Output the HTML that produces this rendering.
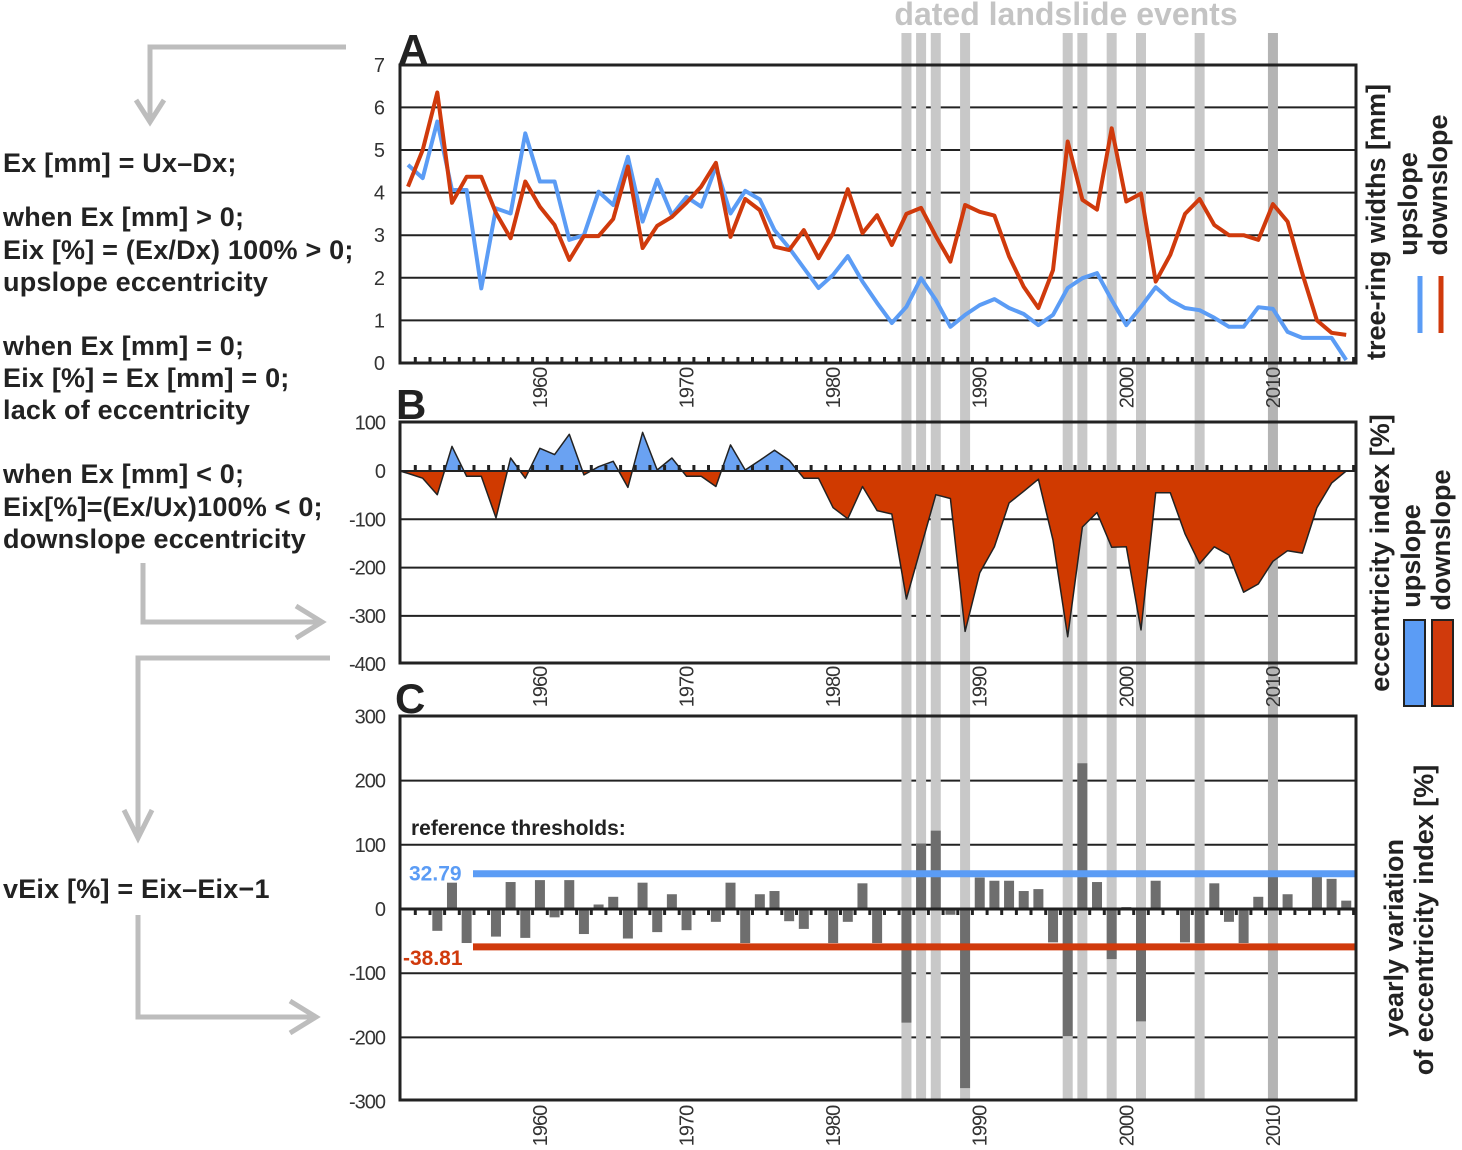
<!DOCTYPE html>
<html><head><meta charset="utf-8"><title>Eccentricity chart</title>
<style>
html,body{margin:0;padding:0;background:#fff;}
svg{display:block;font-family:"Liberation Sans",Arial,sans-serif;}
.lt{font-size:27px;font-weight:bold;fill:#222;letter-spacing:0.2px;}
.tk{font-size:20px;fill:#333;}
</style></head>
<body>
<svg id="chart" width="1462" height="1150" viewBox="0 0 1462 1150">
<defs>
<clipPath id="clipPos"><rect x="400" y="422" width="956" height="49"/></clipPath>
<clipPath id="clipNeg"><rect x="400" y="471" width="956" height="192"/></clipPath>
</defs>
<g id="arrows" fill="none" stroke="#bdbdbd" stroke-width="5">
<polyline points="346,47 150,47 150,122"/>
<polyline points="136,100 150,122 164,100"/>
<polyline points="143,563 143,622 322,622"/>
<polyline points="296,606 322,622 296,638"/>
<polyline points="330,658 138,658 138,838"/>
<polyline points="124,810 138,838 152,810"/>
<polyline points="138,915 138,1017 316,1017"/>
<polyline points="290,1001 316,1017 290,1033"/>
</g>
<g id="lefttext">
<text class="lt" x="3" y="172">Ex [mm] = Ux–Dx;</text>
<text class="lt" x="3" y="226">when Ex [mm] &gt; 0;</text>
<text class="lt" x="3" y="259">Eix [%] = (Ex/Dx) 100% &gt; 0;</text>
<text class="lt" x="3" y="291">upslope eccentricity</text>
<text class="lt" x="3" y="355">when Ex [mm] = 0;</text>
<text class="lt" x="3" y="387">Eix [%] = Ex [mm] = 0;</text>
<text class="lt" x="3" y="419">lack of eccentricity</text>
<text class="lt" x="3" y="483">when Ex [mm] &lt; 0;</text>
<text class="lt" x="3" y="516">Eix[%]=(Ex/Ux)100% &lt; 0;</text>
<text class="lt" x="3" y="548">downslope eccentricity</text>
<text class="lt" x="3" y="898">vEix [%] = Eix–Eix−1</text>
</g>
<text x="1066" y="25" text-anchor="middle" font-size="32" font-weight="bold" fill="#c4c4c4">dated landslide events</text>
<text x="398" y="64" font-size="42" font-weight="bold" fill="#222">A</text>
<text x="396" y="419" font-size="42" font-weight="bold" fill="#222">B</text>
<text x="395" y="713" font-size="42" font-weight="bold" fill="#222">C</text>
<g id="grid"></g>
<g id="events"></g>
<g id="series"></g>
<g id="frames"></g>
<g id="labels"></g>
<g id="legend">
<text transform="translate(1385,222) rotate(-90)" text-anchor="middle" font-size="27" font-weight="bold" fill="#222">tree-ring widths [mm]</text>
<text transform="translate(1417,204) rotate(-90)" text-anchor="middle" font-size="27" font-weight="bold" fill="#222">upslope</text>
<text transform="translate(1447,185) rotate(-90)" text-anchor="middle" font-size="27" font-weight="bold" fill="#222">downslope</text>
<line x1="1420" y1="276" x2="1420" y2="333" stroke="#5b9cf5" stroke-width="5"/>
<line x1="1441" y1="276" x2="1441" y2="333" stroke="#d03a0c" stroke-width="5"/>
<text transform="translate(1389,553) rotate(-90)" text-anchor="middle" font-size="27" font-weight="bold" fill="#222">eccentricity index [%]</text>
<text transform="translate(1420,556) rotate(-90)" text-anchor="middle" font-size="27" font-weight="bold" fill="#222">upslope</text>
<text transform="translate(1450,540) rotate(-90)" text-anchor="middle" font-size="27" font-weight="bold" fill="#222">downslope</text>
<rect x="1404" y="620" width="21" height="86" fill="#5b9cf5" stroke="#222" stroke-width="2"/>
<rect x="1432" y="620" width="21" height="86" fill="#d03a0c" stroke="#222" stroke-width="2"/>
<text transform="translate(1403,938) rotate(-90)" text-anchor="middle" font-size="27" font-weight="bold" fill="#222">yearly variation</text>
<text transform="translate(1433,920) rotate(-90)" text-anchor="middle" font-size="27" font-weight="bold" fill="#222">of eccentricity index [%]</text>
</g>
</svg>
<script>
const years = [];
for (let y = 1951; y <= 2015; y++) years.push(y);
const upslope = [4.65,4.34,5.67,4.06,4.06,1.75,3.63,3.51,5.39,4.26,4.26,2.89,3.0,4.02,3.71,4.84,3.32,4.3,3.47,3.9,3.67,4.61,3.51,4.04,3.84,3.12,2.7,2.23,1.76,2.07,2.51,1.91,1.41,0.94,1.32,1.99,1.48,0.85,1.13,1.36,1.5,1.29,1.15,0.89,1.13,1.76,1.99,2.11,1.48,0.89,1.32,1.78,1.48,1.29,1.24,1.06,0.85,0.85,1.31,1.27,0.73,0.59,0.59,0.59,0.07];
const downslope = [4.14,5.0,6.35,3.76,4.37,4.37,3.52,2.93,4.26,3.67,3.24,2.42,2.98,2.98,3.38,4.61,2.7,3.22,3.43,3.76,4.14,4.7,2.96,3.85,3.59,2.73,2.65,3.12,2.46,3.05,4.08,3.05,3.47,2.77,3.5,3.64,2.98,2.38,3.71,3.55,3.46,2.5,1.79,1.29,2.18,5.2,3.83,3.6,5.51,3.79,3.98,1.91,2.54,3.5,3.85,3.24,3.0,3.0,2.89,3.73,3.32,2.1,1.0,0.71,0.66];
const eix = [-5,-15,-49,51,-11,-11,-97,27,-15,47,34,76,-8,9,20,-34,80,2,27,-11,-11,-32,54,2,22,43,22,-15,-15,-76,-99,-32,-82,-89,-265,-157,-49,-57,-332,-211,-157,-66,-42,-17,-143,-343,-116,-86,-158,-157,-329,-45,-45,-130,-192,-157,-174,-251,-234,-187,-165,-170,-76,-25,0];
const veix = [0,0,-34,41,-53,0,-43,42,-45,45,-13,45,-39,7,19,-46,41,-36,23,-33,0,-20,41,-53,23,28,-19,-31,0,-53,-20,40,-53,-3,-177,102,122,-9,-279,49,44,44,28,31,-52,-198,227,42,-78,3,-175,44,0,-52,-53,40,-20,-53,19,50,23,-3,50,47,13];
const eventYears = [1985,1986,1987,1989,1996,1997,1999,2001,2005,2010];
const thresholdValues = [55,-59];
const thresholdLabels = ["32.79","-38.81"];
const aTicks = [0,1,2,3,4,5,6,7];
const bTicks = [100,0,-100,-200,-300,-400];
const cTicks = [300,200,100,0,-100,-200,-300];
const decadeLabels = [1960,1970,1980,1990,2000,2010];

const NS = "http://www.w3.org/2000/svg";
function mk(tag, attrs, parent, txt) {
  const e = document.createElementNS(NS, tag);
  for (const k in attrs) e.setAttribute(k, attrs[k]);
  if (txt !== undefined) e.textContent = txt;
  parent.appendChild(e);
  return e;
}
const L = 400, R = 1356;
const xOf = y => 408 + (y - 1951) * 14.66;
const yA = v => 363 - v * 42.6;
const yB = v => 471 - v * 0.483;
const yC = v => 909 - v * 0.642;

const grid = document.getElementById('grid');
const events = document.getElementById('events');
const series = document.getElementById('series');
const frames = document.getElementById('frames');
const labels = document.getElementById('labels');

[1,2,3,4,5,6].forEach(v => {
  const g = mk('line', {x1:L, x2:R, y1:yA(v), y2:yA(v), stroke:'#222', 'stroke-width':2}, grid);
  
  
});
[-100,-200,-300].forEach(v => {
  const g = mk('line', {x1:L, x2:R, y1:yB(v), y2:yB(v), stroke:'#222', 'stroke-width':2}, grid);
  
  
});
[200,100,-100,-200].forEach(v => {
  const g = mk('line', {x1:L, x2:R, y1:yC(v), y2:yC(v), stroke:'#222', 'stroke-width':2}, grid);
  
  
});

eventYears.forEach(y => {
  const r = mk('rect', {x:xOf(y)-5, y:33, width:10, height:1067, fill: y===2010 ? '#b4b4b4' : '#c8c8c8'}, events);
  
  
});

function linePath(arr, yf) { return arr.map((v,i) => (i?'L':'M') + xOf(years[i]).toFixed(1) + ',' + yf(v).toFixed(1)).join(''); }
const lu = mk('path', {d:linePath(upslope, yA), fill:'none', stroke:'#5b9cf5', 'stroke-width':4, 'stroke-linejoin':'round'}, series);


const ld = mk('path', {d:linePath(downslope, yA), fill:'none', stroke:'#d03a0c', 'stroke-width':4, 'stroke-linejoin':'round'}, series);



let areaD = 'M' + L + ',' + yB(0) + ' ' + eix.map((v,i) => 'L' + xOf(years[i]).toFixed(1) + ',' + yB(v).toFixed(1)).join(' ') + ' L' + R + ',' + yB(0) + ' Z';
const ap = mk('path', {d:areaD, fill:'#6aa2f2', 'clip-path':'url(#clipPos)'}, series);


const an = mk('path', {d:areaD, fill:'#d03a00', 'clip-path':'url(#clipNeg)'}, series);


const ao = mk('path', {d:areaD, fill:'none', stroke:'#222', 'stroke-width':1.5, 'stroke-linejoin':'round'}, series);



veix.forEach((v,i) => {
  if (v === 0) return;
  const y0 = yC(0), y1 = yC(v);
  const b = mk('rect', {x:xOf(years[i])-5, y:Math.min(y0,y1), width:10, height:Math.abs(y1-y0), fill:'#6e6e6e'}, series);
  
  
});
const tcol = ['#5b9cf5', '#d03a0c'];
thresholdValues.forEach((v,i) => {
  const l = mk('line', {x1:473, x2:R, y1:yC(v), y2:yC(v), stroke:tcol[i], 'stroke-width':7}, series);
  
  
  const t = mk('text', {x: i===0 ? 409 : 403, y: yC(v) + (i===0 ? 7 : 18), 'font-size':21, 'font-weight':'bold', fill:tcol[i]}, labels, thresholdLabels[i]);
  
  
});
const rt = mk('text', {x:411, y:835, 'font-size':21, 'font-weight':'bold', fill:'#222'}, labels, 'reference thresholds:');



const zb = mk('line', {x1:L, x2:R, y1:yB(0), y2:yB(0), stroke:'#222', 'stroke-width':2}, frames);


const zc = mk('line', {x1:L, x2:R, y1:yC(0), y2:yC(0), stroke:'#222', 'stroke-width':3}, frames);


let tA = '', tB = '', tC = '';
years.forEach(y => {
  const x = (xOf(y) + 7.33).toFixed(1);
  if (+x >= R - 2) return;
  tA += 'M' + x + ',' + 363 + 'V' + 357;
  tB += 'M' + x + ',' + yB(0) + 'V' + (yB(0)-6);
  tC += 'M' + x + ',' + yC(0) + 'V' + (yC(0)+6);
});
const ta = mk('path', {d:tA, stroke:'#222', 'stroke-width':3}, frames);


const tb = mk('path', {d:tB, stroke:'#222', 'stroke-width':3}, frames);


const tc = mk('path', {d:tC, stroke:'#222', 'stroke-width':3}, frames);



const fa = mk('rect', {x:L, y:65, width:R-L, height:298, fill:'none', stroke:'#222', 'stroke-width':3}, frames);


const fb = mk('rect', {x:L, y:422, width:R-L, height:241, fill:'none', stroke:'#222', 'stroke-width':3}, frames);


const fc = mk('rect', {x:L, y:716, width:R-L, height:384, fill:'none', stroke:'#222', 'stroke-width':3}, frames);



aTicks.forEach(v => {
  const t = mk('text', {class:'tk', x:385, y:yA(v)+7, 'text-anchor':'end'}, labels, String(v));
  
  
});
bTicks.forEach(v => {
  const t = mk('text', {class:'tk', x:385, y:yB(v)+7, 'text-anchor':'end', 'letter-spacing':'-1'}, labels, String(v));
  
  
});
cTicks.forEach(v => {
  const t = mk('text', {class:'tk', x:385, y:yC(v)+7, 'text-anchor':'end', 'letter-spacing':'-1'}, labels, String(v));
  
  
});
[[388,'a'],[687,'b'],[1126,'c']].forEach(([cy,p]) => {
  decadeLabels.forEach(y => {
    const t = mk('text', {class:'tk', transform:'translate(' + (xOf(y)+7).toFixed(1) + ',' + cy + ') rotate(-90)', 'text-anchor':'middle', 'letter-spacing':'-1'}, labels, String(y));
    
    
  });
});
</script>
</body></html>
